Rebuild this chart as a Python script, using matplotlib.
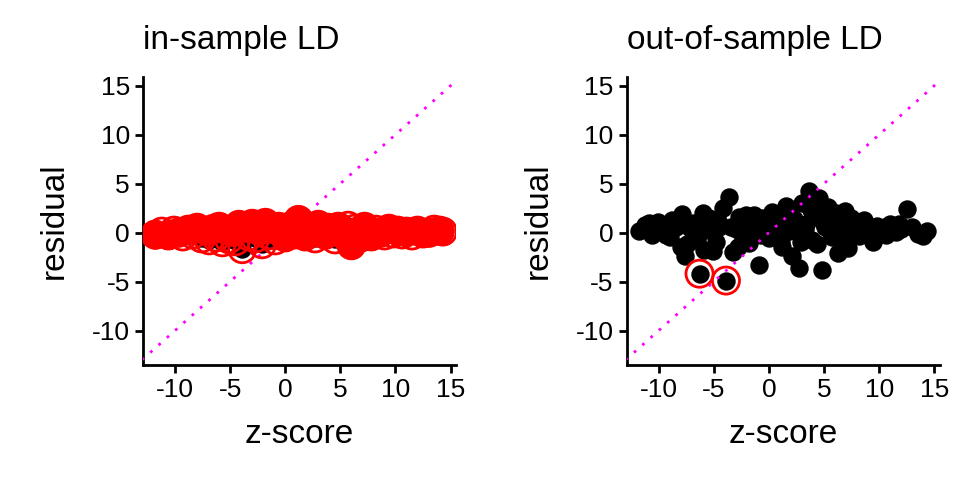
import numpy as np
import matplotlib.pyplot as plt

# z-scores (shared by both panels)
z = [-11.8, -11.2, -10.6, -10.1, -9.7, -9.3, -8.8, -8.4, -8.0, -7.6,
     -7.2, -6.9, -6.5, -6.3, -6.0, -5.7, -5.4, -5.1, -4.8, -4.5,
     -4.2, -3.9, -3.6, -3.3, -3.0, -2.7, -2.4, -2.1, -1.8, -1.5,
     -1.2, -0.9, -0.6, -0.3, 0.0, 0.3, 0.6, 0.9, 1.2, 1.5,
     1.8, 2.1, 2.4, 2.7, 3.0, 3.3, 3.6, 3.9, 4.2, 4.5,
     4.8, 5.1, 5.4, 5.7, 6.0, 6.3, 6.6, 6.9, 7.2, 7.5,
     7.8, 8.2, 8.6, 9.0, 9.4, 9.8, 10.2, 10.6, 11.0, 11.5,
     12.0, 12.5, 13.0, 13.5, 14.0, 14.3]

# residuals, in-sample LD
res_in = [-0.2, 0.1, -0.3, 0.2, 0.0, -0.4, 0.3, -0.2, 0.5, -0.6,
          0.2, -0.8, 0.4, -0.5, 0.6, -1.0, 0.3, -0.7, 0.1, -0.9,
          0.8, -1.7, 0.5, -0.4, 0.9, -0.6, 0.2, -1.2, 1.0, -0.3,
          0.4, -0.8, 0.6, 0.1, -0.5, 0.3, 0.7, -0.2, 1.3, 0.5,
          -0.4, 0.6, 0.2, -0.6, 0.8, 0.3, -0.2, 0.5, 0.1, -0.7,
          0.6, 0.2, -0.3, 0.7, -1.3, 0.4, 0.1, -0.5, 0.6, 0.2,
          -0.4, 0.3, 0.0, -0.3, 0.4, -0.1, 0.2, -0.2, 0.1, -0.3,
          0.2, -0.1, 0.0, 0.3, 0.2, 0.1]

# residuals, out-of-sample LD
res_out = [0.2, 0.8, -0.3, 1.1, 0.4, -0.2, 1.3, 0.6, -1.5, -2.4,
           0.5, 1.0, -0.8, -4.2, 2.0, 0.3, 1.5, -1.9, -1.0, 0.6,
           2.5, -4.9, 3.6, -2.0, 0.4, 1.6, -0.7, 1.8, -1.1, 0.9,
           0.3, -3.3, 1.5, 0.2, -0.6, 2.1, 0.5, 1.2, -1.5, 2.7,
           0.2, -2.4, 1.0, -3.6, 3.0, 0.4, 4.2, -0.8, 1.9, 3.5,
           -3.8, 0.6, 2.6, -0.5, 1.4, -2.1, 0.8, 2.2, -1.6, 0.3,
           1.0, -0.4, 1.3, 0.2, -1.0, 0.7, 0.5, -0.2, 0.9, 0.1,
           0.4, 2.4, 0.6, -0.1, -0.4, 0.2]

# extra dense cloud points for the out-of-sample panel
z_extra = [-10.9, -9.0, -7.9, -7.4, -6.7, -5.9, -5.2, -4.6, -3.4, -2.8,
           -2.2, -1.4, -0.7, 0.5, 1.1, 1.7, 2.3, 2.9, 3.4, 3.8,
           4.4, 4.9, 5.5, 6.1, 6.8, 7.4, 8.0, 9.2, 10.5, 11.8]
res_extra = [1.0, -0.5, 1.9, -1.2, 0.3, -1.8, 0.9, 1.2, 0.6, -1.5,
             0.9, 1.8, -0.3, 1.0, -0.9, 2.5, 1.4, -1.0, 0.9, 2.3,
             -1.2, 1.1, 0.2, 2.0, -0.8, 1.5, 0.9, -0.2, 0.6, 0.9]

# indices flagged with red circles in the out-of-sample panel
flag_out = [13, 21]

plt.rcParams['font.family'] = 'Liberation Sans'
plt.rcParams['axes.unicode_minus'] = False
fig, axes = plt.subplots(1, 2, figsize=(9.6, 4.8), dpi=100)
plt.subplots_adjust(left=0.149, right=0.979, top=0.84, bottom=0.24, wspace=0.545)

titles = ["in-sample LD", "out-of-sample LD"]
for k, ax in enumerate(axes):
    res = res_in if k == 0 else res_out
    ax.plot([-13, 15.5], [-13, 15.5], color='magenta', ls=(0, (1, 3)), lw=2, zorder=3)
    ax.scatter(z, res, s=150, color='black', zorder=2)
    if k == 0:
        ax.scatter(z, res, s=380, facecolors='none', edgecolors='red', linewidths=2, zorder=4)
        ax.scatter(z[::2], res[::2], s=380, color='red', zorder=3)
    else:
        ax.scatter(z_extra, res_extra, s=150, color='black', zorder=2)
        ax.scatter([z[i] for i in flag_out], [res[i] for i in flag_out], s=380,
                   facecolors='none', edgecolors='red', linewidths=2, zorder=4)
    ax.set_xlim(-12.9, 15.5)
    ax.set_ylim(-13.5, 15.9)
    ax.set_xticks([-10, -5, 0, 5, 10, 15])
    ax.set_yticks([-10, -5, 0, 5, 10, 15])
    ax.set_xlabel("z-score", fontsize=24, labelpad=12)
    ax.set_ylabel("residual", fontsize=24, labelpad=16)
    ax.set_title(titles[k], fontsize=24, loc='left', pad=20)
    ax.tick_params(labelsize=19, width=2, length=6)
    for s in ['top', 'right']:
        ax.spines[s].set_visible(False)
    for s in ['left', 'bottom']:
        ax.spines[s].set_linewidth(2)

plt.savefig("out.png")
